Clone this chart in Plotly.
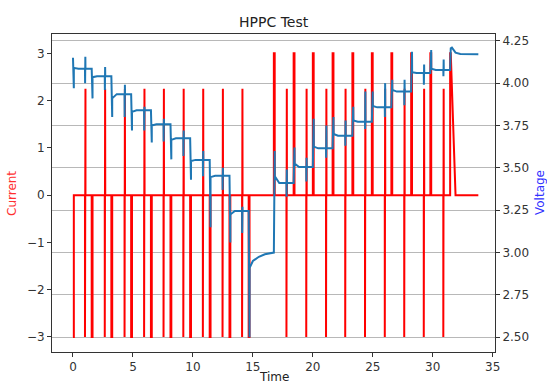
import plotly.graph_objects as go

# ---------------- data (time in h, current in A, voltage in V) ----------------
# Current events
dis_step_t = [0.0, 1.56, 3.2, 4.85, 6.5, 8.13, 9.77, 11.4, 13.05, 14.65]
dis_pulse_t = [1.0, 2.65, 4.3, 5.93, 7.55, 9.2, 10.83, 12.47, 14.1]
chg_step_t = [16.75, 18.4, 20.0, 21.65, 23.3, 24.92, 26.55, 28.2, 29.8, 31.45]
chg_pulse_t = [17.8, 19.45, 21.1, 22.7, 24.35, 26.0, 27.62, 29.25, 30.88]
end_t = 33.8

step_dis_current = -3.0
step_chg_current = 3.0
pulse_dis_current = -3.0
pulse_chg_current = 2.25
cv_tail_t = [31.5, 31.9]
cv_tail_i = [3.0, 0.0]

# Voltage, discharge phase
v_start = 4.15
dis_step_low = [3.97, 3.91, 3.80, 3.72, 3.65, 3.55, 3.43, 3.15, 3.06, 2.50]
dis_level_start = [4.09, 4.035, 3.91, 3.83, 3.75, 3.665, 3.54, 3.445, 3.225]
dis_level_end = [4.085, 4.04, 3.935, 3.84, 3.757, 3.674, 3.547, 3.453, 3.245]
dis_pulse_low = [4.00, 3.96, 3.80, 3.72, 3.655, 3.57, 3.45, 3.37, 3.115]
dis_pulse_high = [4.155, 4.095, 3.99, 3.86, 3.79, 3.72, 3.60, 3.50, 3.27]
rest_curve_t = [14.73, 15.0, 15.5, 16.0, 16.7]
rest_curve_v = [2.91, 2.95, 2.975, 2.99, 3.0]

# Voltage, charge phase
chg_step_high = [3.60, 3.62, 3.79, 3.80, 3.86, 3.95, 4.02, 4.185, 4.195]
chg_level_start = [3.45, 3.525, 3.625, 3.70, 3.78, 3.865, 3.96, 4.065, 4.085]
chg_level_end = [3.41, 3.505, 3.615, 3.69, 3.772, 3.857, 3.95, 4.06, 4.078]
chg_pulse_low = [3.33, 3.42, 3.56, 3.63, 3.73, 3.80, 3.87, 3.99, 4.04]
chg_pulse_high = [3.49, 3.56, 3.75, 3.78, 3.95, 4.00, 4.02, 4.11, 4.14]
final_t = [31.5, 31.6, 31.9, 32.3, 33.8]
final_v = [4.205, 4.21, 4.18, 4.172, 4.17]

x_ticks = [0, 5, 10, 15, 20, 25, 30, 35]
i_ticks = [-3, -2, -1, 0, 1, 2, 3]
v_ticks = [2.50, 2.75, 3.00, 3.25, 3.50, 3.75, 4.00, 4.25]

# ---------------- build polylines ----------------
SW = 0.07   # step width (h)
PW = 0.01   # pulse sub-width (h)

# current
events = [(t, "ds", k) for k, t in enumerate(dis_step_t)]
events += [(t, "p", k) for k, t in enumerate(dis_pulse_t)]
events += [(t, "cs", k) for k, t in enumerate(chg_step_t)]
events += [(t, "p", k) for k, t in enumerate(chg_pulse_t)]
events.sort()

it, iv = [], []
for t, kind, k in events:
    if kind == "ds":
        if t > 0:
            it.append(t); iv.append(0.0)
        it += [t, t + SW, t + SW]
        iv += [step_dis_current, step_dis_current, 0.0]
    elif kind == "cs":
        it.append(t); iv.append(0.0)
        if k == len(chg_step_t) - 1:
            it.append(t); iv.append(step_chg_current)
            it += cv_tail_t; iv += cv_tail_i
        else:
            it += [t, t + SW, t + SW]
            iv += [step_chg_current, step_chg_current, 0.0]
    else:
        it += [t, t, t + PW, t + PW, t + 3 * PW, t + 3 * PW, t + 4 * PW, t + 4 * PW]
        iv += [0.0, pulse_dis_current, pulse_dis_current, 0.0, 0.0,
               pulse_chg_current, pulse_chg_current, 0.0]
it.append(end_t); iv.append(0.0)

# voltage
vt, vv = [0.0], [v_start]
prev = v_start
for k, ts in enumerate(dis_step_t):
    vt += [ts, ts + SW]
    vv += [prev, dis_step_low[k]]
    if k < len(dis_level_start):
        vt += [ts + SW, ts + 0.45]
        vv += [dis_level_start[k], dis_level_end[k]]
        tp = dis_pulse_t[k]
        L = dis_level_end[k]
        vt += [tp, tp + PW, tp + 3 * PW, tp + 4 * PW]
        vv += [L, dis_pulse_low[k], dis_pulse_high[k], L]
        prev = L
    else:
        vt += rest_curve_t
        vv += rest_curve_v
        prev = rest_curve_v[-1]

for k, ts in enumerate(chg_step_t):
    vt.append(ts); vv.append(prev)
    if k < len(chg_step_high):
        vt += [ts + SW, ts + SW + 0.01, ts + 0.45]
        vv += [chg_step_high[k], chg_level_start[k], chg_level_end[k]]
        tp = chg_pulse_t[k]
        L = chg_level_end[k]
        vt += [tp, tp + PW, tp + 3 * PW, tp + 4 * PW]
        vv += [L, chg_pulse_low[k], chg_pulse_high[k], L]
        prev = L
    else:
        vt += final_t
        vv += final_v

# ---------------- figure ----------------
FONT = "DejaVu Sans"
TICKC = "#333333"

fig = go.Figure()
fig.add_trace(go.Scatter(x=it, y=iv, mode="lines", name="Current",
                         line=dict(color="#ff0000", width=2.0), yaxis="y"))
fig.add_trace(go.Scatter(x=vt, y=vv, mode="lines", name="Voltage",
                         line=dict(color="#1f77b4", width=2.0), yaxis="y2"))

fig.update_layout(
    width=547, height=385,
    margin=dict(l=52, r=52, t=34, b=33, autoexpand=False),
    paper_bgcolor="white", plot_bgcolor="white",
    showlegend=False,
    font=dict(family=FONT, size=12, color=TICKC),
    xaxis=dict(range=[-1.75, 35.19], tickvals=x_ticks, ticks="outside", ticklen=4,
               tickcolor="#333", showline=True, linecolor="#333", linewidth=1,
               mirror=True, showgrid=False, zeroline=False, automargin=False,
               tickfont=dict(size=12, color=TICKC)),
    yaxis=dict(range=[-3.32, 3.41], tickvals=i_ticks,
               ticktext=[("\u2212" + str(abs(v))) if v < 0 else str(v) for v in i_ticks],
               ticks="outside", ticklen=4, tickcolor="#333", showline=True,
               linecolor="#333", linewidth=1, mirror=True, showgrid=False,
               zeroline=False, automargin=False,
               tickfont=dict(size=12, color=TICKC)),
    yaxis2=dict(range=[2.413, 4.29], tickvals=v_ticks,
                ticktext=["%.2f" % v for v in v_ticks],
                overlaying="y", side="right", ticks="outside", ticklen=4,
                tickcolor="#333", showline=False, showgrid=True,
                gridcolor="#b8b8b8", gridwidth=0.9, zeroline=False,
                automargin=False, tickfont=dict(size=12, color=TICKC)),
    annotations=[
        dict(text="HPPC Test", x=0.5, y=1.0387, xref="paper", yref="paper",
             xanchor="center", yanchor="middle", showarrow=False,
             font=dict(size=14, color="#222", family=FONT)),
        dict(text="Time", x=0.5, y=-0.0786, xref="paper", yref="paper",
             xanchor="center", yanchor="middle", showarrow=False,
             font=dict(size=12, color="#222", family=FONT)),
        dict(text="Current", x=-0.0903, y=0.5, xref="paper", yref="paper",
             xanchor="center", yanchor="middle", textangle=-90, showarrow=False,
             font=dict(size=12, color="#ff3030", family=FONT)),
        dict(text="Voltage", x=1.1016, y=0.5, xref="paper", yref="paper",
             xanchor="center", yanchor="middle", textangle=-90, showarrow=False,
             font=dict(size=12, color="#3030ff", family=FONT)),
    ],
)

fig.write_html("out.html", config={"displayModeBar": False},
               post_script="document.body.style.margin='0px';")
